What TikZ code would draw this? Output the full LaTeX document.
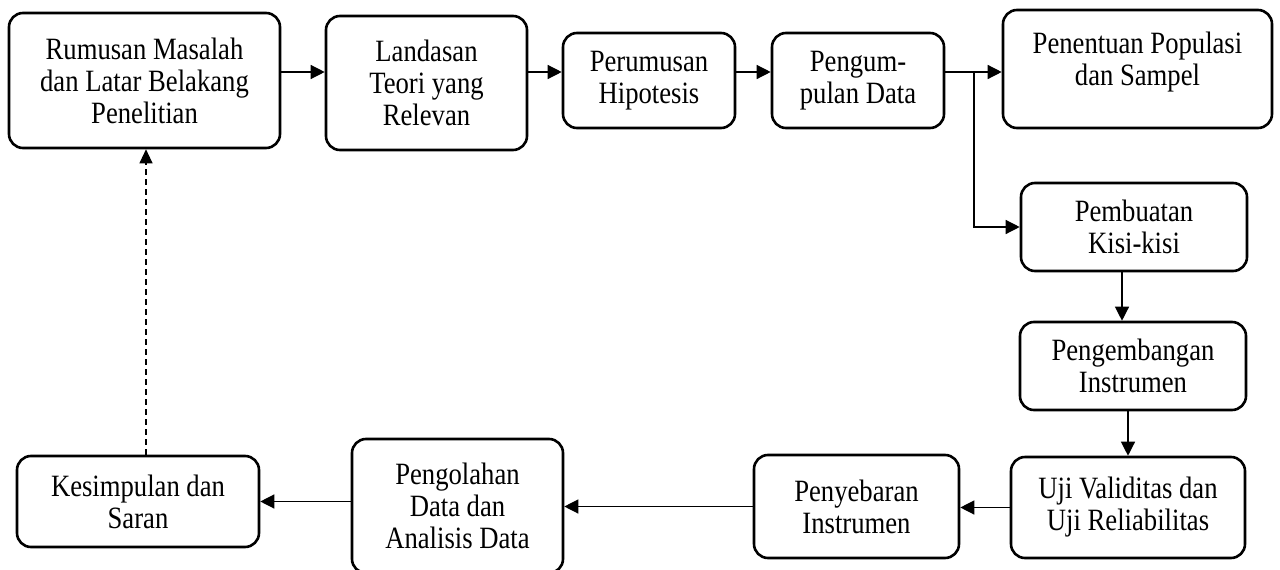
\documentclass[tikz,border=0pt]{standalone}
\usepackage{fontspec}
\setmainfont{Liberation Serif}
\newfontfamily\tallfont[FakeStretch=0.86]{Liberation Serif}
\usetikzlibrary{arrows.meta,calc}
\begin{document}
\begin{tikzpicture}[x=1pt,y=-1pt,
  txt/.style={align=center, inner sep=0pt, font=\tallfont\fontsize{31}{32}\selectfont},
  box/.style={txt, draw, line width=2.6pt, rounded corners=14pt},
  conn/.style={line width=1.3pt, -{Triangle[length=14pt,width=14pt]}},
  back/.style={line width=1.1pt, dash pattern=on 6pt off 4pt, -{Triangle[length=14pt,width=13pt]}},
]
\useasboundingbox (0,0) rectangle (1280,570);
\coordinate (toprow) at (0,72);
\coordinate (cxa) at (1122,0);
\coordinate (dx) at (146,0);
\coordinate (br) at (974,72);

\node[box, minimum width=271pt, minimum height=135pt] (r1) at (144.5,80.5) {Rumusan Masalah\\dan Latar Belakang\\Penelitian};
\node[box, minimum width=201pt, minimum height=134pt] (r2) at (426.5,83) {Landasan\\Teori yang\\Relevan};
\node[box, minimum width=172pt, minimum height=95pt] (r3) at (649,80.5) {Perumusan\\Hipotesis};
\node[box, minimum width=172pt, minimum height=95pt] (r4) at (858,80.5) {Pengum-\\pulan Data};
\node[box, minimum width=269pt, minimum height=118pt] (r5) at (1137.5,69) {};
\node[txt] (r5t) at (1137.5,62.5) {Penentuan Populasi\\dan Sampel};
\node[box, minimum width=226pt, minimum height=88pt] (r6) at (1134,227) {Pembuatan\\Kisi-kisi};
\node[box, minimum width=226pt, minimum height=88pt] (r7) at (1133,366) {Pengembangan\\Instrumen};
\node[box, minimum width=234pt, minimum height=101pt] (r8) at (1128,507.5) {Uji Validitas dan\\Uji Reliabilitas};
\node[box, minimum width=205pt, minimum height=103pt] (r9) at (856.5,506.5) {Penyebaran\\Instrumen};
\node[box, minimum width=211pt, minimum height=134pt] (r10) at (457.5,506) {Pengolahan\\Data dan\\Analisis Data};
\node[box, minimum width=242pt, minimum height=91pt] (r11) at (138,501.5) {Kesimpulan dan\\Saran};

\draw[conn] (r1.east |- toprow) -- (r2.west |- toprow);
\draw[conn] (r2.east |- toprow) -- (r3.west |- toprow);
\draw[conn] (r3.east |- toprow) -- (r4.west |- toprow);
\draw[conn] (r4.east |- toprow) -- (r5.west |- toprow);
\draw[conn] (br) |- (r6.west);
\draw[conn] (cxa |- r6.south) -- (cxa |- r7.north);
\draw[conn] (r8.north |- r7.south) -- (r8.north);
\draw[conn] (r8.west) -- (r9.east |- r8.west);
\draw[conn] (r9.west) -- (r10.east |- r9.west);
\draw[conn] (r10.west |- r11.east) -- (r11.east);
\draw[back] (dx |- r11.north) -- (dx |- r1.south);
\end{tikzpicture}
\end{document}
